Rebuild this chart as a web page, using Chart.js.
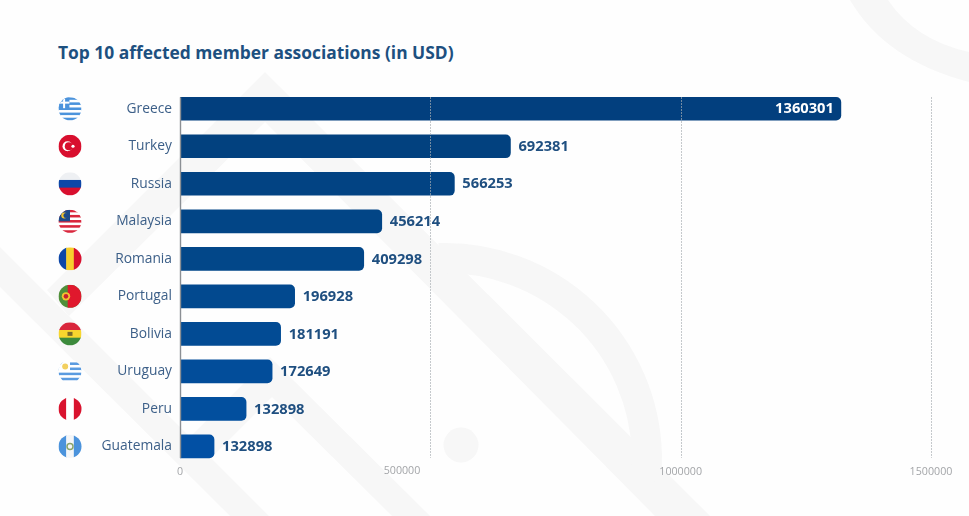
<!DOCTYPE html>
<html>
<head>
<meta charset="utf-8">
<title>Top 10 affected member associations</title>
<script src="https://cdn.jsdelivr.net/npm/chart.js@4"></script>
<style>
  html, body { margin: 0; padding: 0; background: #fefefe; overflow: hidden; }
  #wrap { position: relative; width: 969px; height: 516px; }
  #chart { position: absolute; left: 0; top: 0; }
  h1 {
    position: absolute; left: 58px; top: 40px; margin: 0;
    font: 700 17.4px "Open Sans", sans-serif; color: #1d5080; white-space: nowrap;
  }
</style>
</head>
<body>
<div id="wrap">
  <h1>Top 10 affected member associations (in USD)</h1>
  <canvas id="chart" width="969" height="516"></canvas>
</div>
<script>
// categories, top to bottom
const countries = ['Greece', 'Turkey', 'Russia', 'Malaysia', 'Romania', 'Portugal', 'Bolivia', 'Uruguay', 'Peru', 'Guatemala'];
// bar lengths as drawn (they don't agree with the printed figures in the original)
const barLengths = [1320000, 660000, 548000, 403000, 367000, 229000, 201000, 184000, 132000, 68000];
// figures as printed next to the bars
const printedValues = [1360301, 692381, 566253, 456214, 409298, 196928, 181191, 172649, 132898, 132898];
const xTicks = [0, 500000, 1000000, 1500000];
const barColors = ['#023f7e', '#02417f', '#024383', '#024586', '#024789', '#02498f', '#024b94', '#024d9a', '#024f9e', '#0250a4'];

const TEXT_BLUE = '#1f4f80';
const TICK_GREY = '#a3a5a8';
const TICK_FONT = '10.7px "Open Sans", sans-serif';

function stripes(ctx, x, y, r, colors) {
  const h = 2 * r / colors.length;
  colors.forEach((c, i) => {
    ctx.fillStyle = c;
    ctx.fillRect(x - r, y - r + i * h, 2 * r, h + 0.5);
  });
}

function columns(ctx, x, y, r, colors) {
  const w = 2 * r / colors.length;
  colors.forEach((c, i) => {
    ctx.fillStyle = c;
    ctx.fillRect(x - r + i * w, y - r, w + 0.5, 2 * r);
  });
}

const flagPainters = {
  Greece(ctx, x, y, r) {
    stripes(ctx, x, y, r, ['#4b93dc', '#fff', '#4b93dc', '#fff', '#4b93dc', '#fff', '#4b93dc', '#fff', '#4b93dc']);
    ctx.fillStyle = '#4b93dc';
    ctx.fillRect(x - r, y - r, r * 0.95, r * 0.95);
    ctx.fillStyle = '#fff';
    ctx.fillRect(x - r, y - r * 0.62, r * 0.95, 2);
    ctx.fillRect(x - r * 0.6, y - r, 2, r * 0.95);
  },
  Turkey(ctx, x, y, r) {
    ctx.fillStyle = '#d80f2e';
    ctx.fillRect(x - r, y - r, 2 * r, 2 * r);
    ctx.fillStyle = '#fff';
    ctx.beginPath(); ctx.arc(x - 2.5, y, 5, 0, Math.PI * 2); ctx.fill();
    ctx.fillStyle = '#d80f2e';
    ctx.beginPath(); ctx.arc(x - 1.2, y, 4, 0, Math.PI * 2); ctx.fill();
    ctx.fillStyle = '#fff';
    ctx.beginPath(); ctx.arc(x + 3, y, 1.6, 0, Math.PI * 2); ctx.fill();
  },
  Russia(ctx, x, y, r) { stripes(ctx, x, y, r, ['#eef0f3', '#0d47a8', '#d80f2e']); },
  Malaysia(ctx, x, y, r) {
    stripes(ctx, x, y, r, ['#d9263c', '#fff', '#d9263c', '#fff', '#d9263c', '#fff', '#d9263c', '#fff', '#d9263c']);
    ctx.fillStyle = '#1d4a8a';
    ctx.fillRect(x - r, y - r, r, r);
    ctx.fillStyle = '#f2c230';
    ctx.beginPath(); ctx.arc(x - r * 0.5, y - r * 0.5, 3, 0, Math.PI * 2); ctx.fill();
    ctx.fillStyle = '#1d4a8a';
    ctx.beginPath(); ctx.arc(x - r * 0.35, y - r * 0.5, 2.5, 0, Math.PI * 2); ctx.fill();
  },
  Romania(ctx, x, y, r) { columns(ctx, x, y, r, ['#0d47a8', '#f7cf2e', '#d80f2e']); },
  Portugal(ctx, x, y, r) {
    ctx.fillStyle = '#4f8f3a';
    ctx.fillRect(x - r, y - r, 2 * r, 2 * r);
    ctx.fillStyle = '#e0182d';
    ctx.fillRect(x - r * 0.2, y - r, 1.2 * r, 2 * r);
    ctx.fillStyle = '#f2c230';
    ctx.beginPath(); ctx.arc(x - r * 0.35, y, 4.2, 0, Math.PI * 2); ctx.fill();
    ctx.fillStyle = '#c8202f';
    ctx.beginPath(); ctx.arc(x - r * 0.35, y, 2.3, 0, Math.PI * 2); ctx.fill();
  },
  Bolivia(ctx, x, y, r) {
    stripes(ctx, x, y, r, ['#d9263c', '#f7d62e', '#3c8a3c']);
    ctx.fillStyle = '#7a6a2a';
    ctx.fillRect(x - 2.5, y - 2, 5, 4);
  },
  Uruguay(ctx, x, y, r) {
    stripes(ctx, x, y, r, ['#fff', '#5a9be0', '#fff', '#5a9be0', '#fff', '#5a9be0', '#fff', '#5a9be0', '#fff']);
    ctx.fillStyle = '#fff';
    ctx.fillRect(x - r, y - r, r, r);
    ctx.fillStyle = '#f2d060';
    ctx.beginPath(); ctx.arc(x - r * 0.42, y - r * 0.42, 3, 0, Math.PI * 2); ctx.fill();
  },
  Peru(ctx, x, y, r) { columns(ctx, x, y, r, ['#d9132e', '#fff', '#d9132e']); },
  Guatemala(ctx, x, y, r) {
    columns(ctx, x, y, r, ['#4b93dc', '#f4f6f8', '#4b93dc']);
    ctx.strokeStyle = '#8aa56a';
    ctx.lineWidth = 1.5;
    ctx.beginPath(); ctx.arc(x, y, 3, 0, Math.PI * 2); ctx.stroke();
  }
};

// faint logo shapes behind the chart
const watermark = {
  id: 'watermark',
  beforeDraw(chart) {
    const ctx = chart.ctx;
    ctx.save();
    ctx.fillStyle = '#f7f7f7';
    ctx.strokeStyle = '#f7f7f7';
    const poly = pts => {
      ctx.beginPath();
      pts.forEach((p, i) => (i ? ctx.lineTo(p[0], p[1]) : ctx.moveTo(p[0], p[1])));
      ctx.closePath();
      ctx.fill();
    };
    poly([[0, 247], [269, 516], [230, 516], [0, 287]]);
    poly([[265, 72], [710, 516], [655, 516], [265, 122], [69, 316], [47, 290]]);
    poly([[270, 357], [430, 516], [392, 516], [272, 397], [211, 458], [190, 437]]);
    ctx.lineWidth = 30;
    ctx.beginPath();
    ctx.arc(445, 460, 202, -Math.PI / 2 - 0.03, 0.1);
    ctx.stroke();
    ctx.beginPath();
    ctx.arc(461, 445, 17.5, 0, Math.PI * 2);
    ctx.fill();
    ctx.beginPath();
    ctx.moveTo(850, 0);
    ctx.quadraticCurveTo(885, 60, 969, 82);
    ctx.lineTo(969, 52);
    ctx.quadraticCurveTo(915, 40, 888, 0);
    ctx.closePath();
    ctx.fill();
    ctx.restore();
  }
};

// dotted grid spans first bar top to last bar bottom, and the zero line
const gridLines = {
  id: 'gridLines',
  afterDatasetsDraw(chart) {
    const ctx = chart.ctx;
    const x = chart.scales.x;
    const bars = chart.getDatasetMeta(0).data;
    const top = bars[0].y - bars[0].height / 2;
    const bottom = bars[bars.length - 1].y + bars[bars.length - 1].height / 2;
    ctx.save();
    xTicks.forEach(v => {
      const px = Math.round(x.getPixelForValue(v)) + 0.5;
      ctx.beginPath();
      if (v === 0) {
        ctx.strokeStyle = '#8b8f94';
        ctx.lineWidth = 1.4;
        ctx.setLineDash([]);
      } else {
        ctx.strokeStyle = 'rgba(170,175,180,0.9)';
        ctx.lineWidth = 1;
        ctx.setLineDash([1.5, 1.5]);
      }
      ctx.moveTo(px, top);
      ctx.lineTo(px, bottom);
      ctx.stroke();
    });
    // the 500000 label sits left of its gridline in the original, the axis can't offset one tick
    ctx.setLineDash([]);
    ctx.font = TICK_FONT;
    ctx.fillStyle = TICK_GREY;
    ctx.textAlign = 'right';
    ctx.textBaseline = 'middle';
    ctx.fillText('500000', x.getPixelForValue(500000) - 10, chart.chartArea.bottom + 6);
    ctx.restore();
  }
};

// printed figures, inside the bar when it would run long
const valueLabels = {
  id: 'valueLabels',
  afterDatasetsDraw(chart) {
    const ctx = chart.ctx;
    const bars = chart.getDatasetMeta(0).data;
    ctx.save();
    ctx.font = '700 14.7px "Open Sans", sans-serif';
    ctx.textBaseline = 'middle';
    bars.forEach((bar, i) => {
      if (barLengths[i] > 1000000) {
        ctx.textAlign = 'right';
        ctx.fillStyle = '#ffffff';
        ctx.fillText(String(printedValues[i]), bar.x - 7, bar.y + 0.5);
      } else {
        ctx.textAlign = 'left';
        ctx.fillStyle = TEXT_BLUE;
        ctx.fillText(String(printedValues[i]), bar.x + 8, bar.y + 0.5);
      }
    });
    ctx.restore();
  }
};

const flags = {
  id: 'flags',
  afterDraw(chart) {
    const ctx = chart.ctx;
    const y = chart.scales.y;
    countries.forEach((name, i) => {
      const cy = y.getPixelForValue(i);
      const cx = 70, r = 11.5;
      ctx.save();
      ctx.beginPath();
      ctx.arc(cx, cy, r, 0, Math.PI * 2);
      ctx.clip();
      flagPainters[name](ctx, cx, cy, r);
      ctx.restore();
    });
  }
};

new Chart(document.getElementById('chart'), {
  type: 'bar',
  data: {
    labels: countries,
    datasets: [{
      data: barLengths,
      backgroundColor: barColors,
      borderRadius: { topRight: 5, bottomRight: 5, topLeft: 0, bottomLeft: 0 },
      borderSkipped: false,
      barThickness: 23
    }]
  },
  plugins: [watermark, gridLines, valueLabels, flags],
  options: {
    indexAxis: 'y',
    responsive: false,
    animation: false,
    layout: { padding: { top: 90, right: 38, bottom: 38, left: 0 } },
    plugins: { legend: { display: false }, tooltip: { enabled: false } },
    scales: {
      x: {
        min: 0,
        max: 1500000,
        afterBuildTicks(axis) { axis.ticks = xTicks.map(value => ({ value })); },
        grid: { display: false, drawTicks: false },
        border: { display: false },
        ticks: {
          color: TICK_GREY,
          font: { family: '"Open Sans", sans-serif', size: 10.7 },
          padding: 0,
          maxRotation: 0,
          callback: v => (v === 500000 ? '' : String(v))
        }
      },
      y: {
        afterFit(axis) { axis.width = 180; },
        grid: { display: false, drawTicks: false },
        border: { display: false },
        ticks: { color: '#3c5f88', font: { family: '"Open Sans", sans-serif', size: 13.8, weight: '500' }, padding: 8 }
      }
    }
  }
});
</script>
</body>
</html>
